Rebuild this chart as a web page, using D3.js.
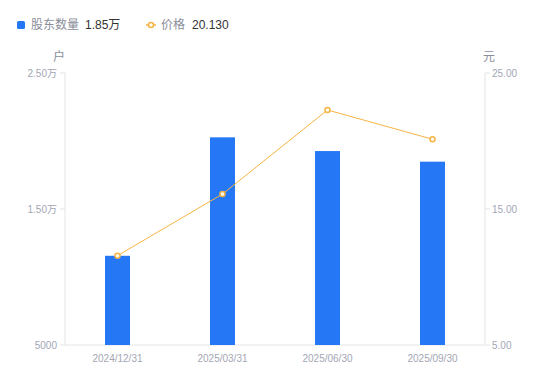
<!DOCTYPE html>
<html>
<head>
<meta charset="utf-8">
<script src="https://cdn.jsdelivr.net/npm/d3@7"></script>
<style>
  body { margin: 0; background: #fff; }
  svg { font-family: "Liberation Sans", "Noto Sans CJK SC", sans-serif; display: block; }
</style>
</head>
<body>
<svg id="chart" width="550" height="381"></svg>
<script>
// Data
const dates = ["2024/12/31", "2025/03/31", "2025/06/30", "2025/09/30"];
const holders = [11560, 20270, 19260, 18480];   // 股东数量 (户)
const prices = [11.57, 16.10, 22.28, 20.13];     // 价格 (元)
const leftTicks = [5000, 15000, 25000];
const rightTicks = [5, 15, 25];

// Colors
const barColor = "#2677f5";
const lineColor = "#f7b443";
const axisColor = "#e3e4e8";
const tickTextColor = "#a3a6b4";

const margin = {top: 73, right: 65, bottom: 36, left: 65};
const width = 550 - margin.left - margin.right;
const height = 381 - margin.top - margin.bottom;

const svg = d3.select("#chart");
const g = svg.append("g").attr("transform", `translate(${margin.left},${margin.top})`);

const x = d3.scaleBand().domain(dates).range([0, width]);
const yLeft = d3.scaleLinear().domain([5000, 25000]).range([height, 0]);
const yRight = d3.scaleLinear().domain([5, 25]).range([height, 0]);

function fmtLeft(v) {
    return v >= 10000 ? (v / 10000).toFixed(2) + "万" : String(v);
}

// Axes lines
g.append("line").attr("x1", 0).attr("x2", 0).attr("y1", 0).attr("y2", height)
    .attr("stroke", axisColor);
g.append("line").attr("x1", width).attr("x2", width).attr("y1", 0).attr("y2", height)
    .attr("stroke", axisColor);
g.append("line").attr("x1", 0).attr("x2", width).attr("y1", height).attr("y2", height)
    .attr("stroke", axisColor);

// Left ticks
leftTicks.forEach(v => {
    g.append("line").attr("x1", -5).attr("x2", 0)
        .attr("y1", yLeft(v)).attr("y2", yLeft(v)).attr("stroke", axisColor);
    g.append("text").attr("x", -8).attr("y", yLeft(v)).attr("dy", "0.35em")
        .attr("text-anchor", "end").attr("font-size", 10).attr("fill", tickTextColor)
        .text(fmtLeft(v));
});

// Right ticks
rightTicks.forEach(v => {
    g.append("line").attr("x1", width).attr("x2", width + 5)
        .attr("y1", yRight(v)).attr("y2", yRight(v)).attr("stroke", axisColor);
    g.append("text").attr("x", width + 7).attr("y", yRight(v)).attr("dy", "0.35em")
        .attr("text-anchor", "start").attr("font-size", 10).attr("fill", tickTextColor)
        .text(v.toFixed(2));
});

// X labels
dates.forEach(d => {
    g.append("text").attr("x", x(d) + x.bandwidth() / 2).attr("y", height + 13)
        .attr("dy", "0.35em").attr("text-anchor", "middle")
        .attr("font-size", 10).attr("fill", tickTextColor).text(d);
});

// Unit labels
svg.append("text").attr("x", 59).attr("y", 57).attr("dy", "0.35em")
    .attr("text-anchor", "middle").attr("font-size", 12).attr("fill", "#8a8d99").text("户");
svg.append("text").attr("x", 489).attr("y", 57).attr("dy", "0.35em")
    .attr("text-anchor", "middle").attr("font-size", 12).attr("fill", "#8a8d99").text("元");

// Bars
const barW = 25;
g.selectAll("rect.bar")
    .data(holders)
    .enter()
    .append("rect")
    .attr("class", "bar")
    .attr("x", (d, i) => x(dates[i]) + x.bandwidth() / 2 - barW / 2)
    .attr("width", barW)
    .attr("y", d => yLeft(d))
    .attr("height", d => height - yLeft(d))
    .attr("fill", barColor);

// Price line
const line = d3.line()
    .x((d, i) => x(dates[i]) + x.bandwidth() / 2)
    .y(d => yRight(d));

g.append("path")
    .datum(prices)
    .attr("d", line)
    .attr("fill", "none")
    .attr("stroke", lineColor)
    .attr("stroke-width", 1);

g.selectAll("circle.pt")
    .data(prices)
    .enter()
    .append("circle")
    .attr("class", "pt")
    .attr("cx", (d, i) => x(dates[i]) + x.bandwidth() / 2)
    .attr("cy", d => yRight(d))
    .attr("r", 2.5)
    .attr("fill", "#fff")
    .attr("stroke", lineColor)
    .attr("stroke-width", 1.5);

// Legend
const legend = svg.append("g");
legend.append("rect").attr("x", 17).attr("y", 21).attr("width", 8).attr("height", 8)
    .attr("rx", 1.5).attr("fill", barColor);
legend.append("text").attr("x", 31).attr("y", 25).attr("dy", "0.35em")
    .attr("font-size", 12).attr("fill", "#8a8d99").text("股东数量");
legend.append("text").attr("x", 85).attr("y", 25).attr("dy", "0.35em")
    .attr("font-size", 12).attr("fill", "#333").text((holders[3] / 10000).toFixed(2) + "万");

legend.append("line").attr("x1", 146).attr("x2", 156).attr("y1", 25).attr("y2", 25)
    .attr("stroke", lineColor).attr("stroke-width", 1.5);
legend.append("circle").attr("cx", 151).attr("cy", 25).attr("r", 2.5)
    .attr("fill", "#fff").attr("stroke", lineColor).attr("stroke-width", 1.5);
legend.append("text").attr("x", 161).attr("y", 25).attr("dy", "0.35em")
    .attr("font-size", 12).attr("fill", "#8a8d99").text("价格");
legend.append("text").attr("x", 192).attr("y", 25).attr("dy", "0.35em")
    .attr("font-size", 12).attr("fill", "#333").text(prices[3].toFixed(3));
</script>
</body>
</html>
